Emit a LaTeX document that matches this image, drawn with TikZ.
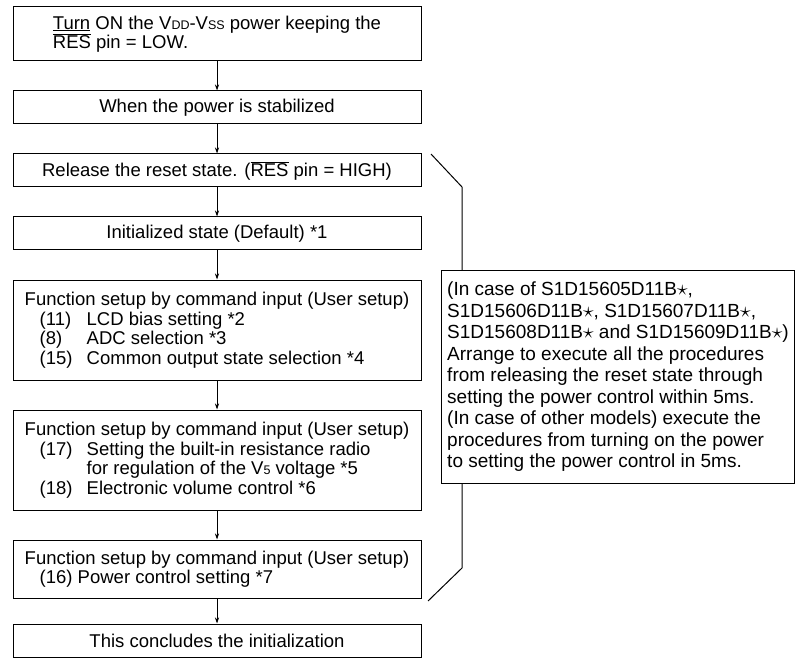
\documentclass[tikz,border=0pt]{standalone}
\usepackage{fontspec}
\setmainfont{Liberation Sans}
\usetikzlibrary{arrows.meta}
\newcommand{\lowcap}[1]{{\fontsize{12.5}{12.5}\selectfont #1}}
\newcommand{\resbar}{$\overline{\mbox{RES}}$}
\newcommand{\fnum}[1]{\hspace*{15pt}\makebox[47pt][l]{#1}}
\newcommand{\modstar}{\scalebox{1.25}{$\star$}}
\begin{document}
\begin{tikzpicture}[x=1pt,y=-1pt]
	\tikzset{stepbox/.style=
        {draw=black, line width=1pt, align=left, minimum width=408pt, inner xsep=4pt, inner ysep=2pt,
         font=\fontsize{18.5}{19.5}\selectfont},
        flow/.style={line width=0.8pt, -{Stealth[length=6pt,width=4pt]}}
     }
	\useasboundingbox (0,0) rectangle (797,660);
	\node (st1) at (217,34) [stepbox, minimum height=54pt] {\underline{Turn} ON the V\lowcap{DD}-V\lowcap{SS} power keeping the\\\resbar{} pin = LOW.};
	\node (st2) at (217,107.5) [stepbox, minimum height=33pt] {When the power is stabilized};
	\node (st3) at (217,170.5) [stepbox, minimum height=33pt] {Release the reset state. (\resbar{} pin = HIGH)};
	\node (st4) at (217,233.5) [stepbox, minimum height=33pt] {Initialized state (Default) *1};
	\node (st5) at (217,330) [stepbox, minimum height=100pt] {Function setup by command input (User setup)\\
		\fnum{(11)}LCD bias setting *2\\
		\fnum{(8)}ADC selection *3\\
		\fnum{(15)}Common output state selection *4};
	\node (st6) at (217,460) [stepbox, minimum height=100pt] {Function setup by command input (User setup)\\
		\fnum{(17)}Setting the built-in resistance radio\\
		\hspace*{62pt}for regulation of the V\lowcap{5} voltage *5\\
		\fnum{(18)}Electronic volume control *6};
	\node (st7) at (217,569) [stepbox, minimum height=58pt] {Function setup by command input (User setup)\\
		\hspace*{15pt}(16) Power control setting *7};
	\node (st8) at (217,640.5) [stepbox, minimum height=33pt] {This concludes the initialization};
	\node (note) at (441,270) [anchor=north west, draw=black, line width=1pt, align=left, inner xsep=5pt,
		minimum width=353pt, minimum height=213pt, font=\fontsize{19}{21.5}\selectfont]
		{(In case of S1D15605D11B\modstar,\\
		S1D15606D11B\modstar, S1D15607D11B\modstar,\\
		S1D15608D11B\modstar{} and S1D15609D11B\modstar)\\
		Arrange to execute all the procedures\\
		from releasing the reset state through\\
		setting the power control within 5ms.\\
		(In case of other models) execute the\\
		procedures from turning on the power\\
		to setting the power control in 5ms.};
	\draw[flow] (node cs:name=st1,anchor=south) -- (node cs:name=st2,anchor=north);
	\draw[flow] (node cs:name=st2,anchor=south) -- (node cs:name=st3,anchor=north);
	\draw[flow] (node cs:name=st3,anchor=south) -- (node cs:name=st4,anchor=north);
	\draw[flow] (node cs:name=st4,anchor=south) -- (node cs:name=st5,anchor=north);
	\draw[flow] (node cs:name=st5,anchor=south) -- (node cs:name=st6,anchor=north);
	\draw[flow] (node cs:name=st6,anchor=south) -- (node cs:name=st7,anchor=north);
	\draw[flow] (node cs:name=st7,anchor=south) -- (node cs:name=st8,anchor=north);
	% bracket from reset release to power control
	\coordinate (bktop) at (431,154);
	\coordinate (bkup) at (462,187);
	\coordinate (bkdn) at (462,568);
	\coordinate (bkbot) at (428,601);
	\draw[line width=1pt] (bktop) -- (bkup) -- (bkup |- note.north);
	\draw[line width=1pt] (bkdn |- note.south) -- (bkdn) -- (bkbot);
\end{tikzpicture}
\end{document}
